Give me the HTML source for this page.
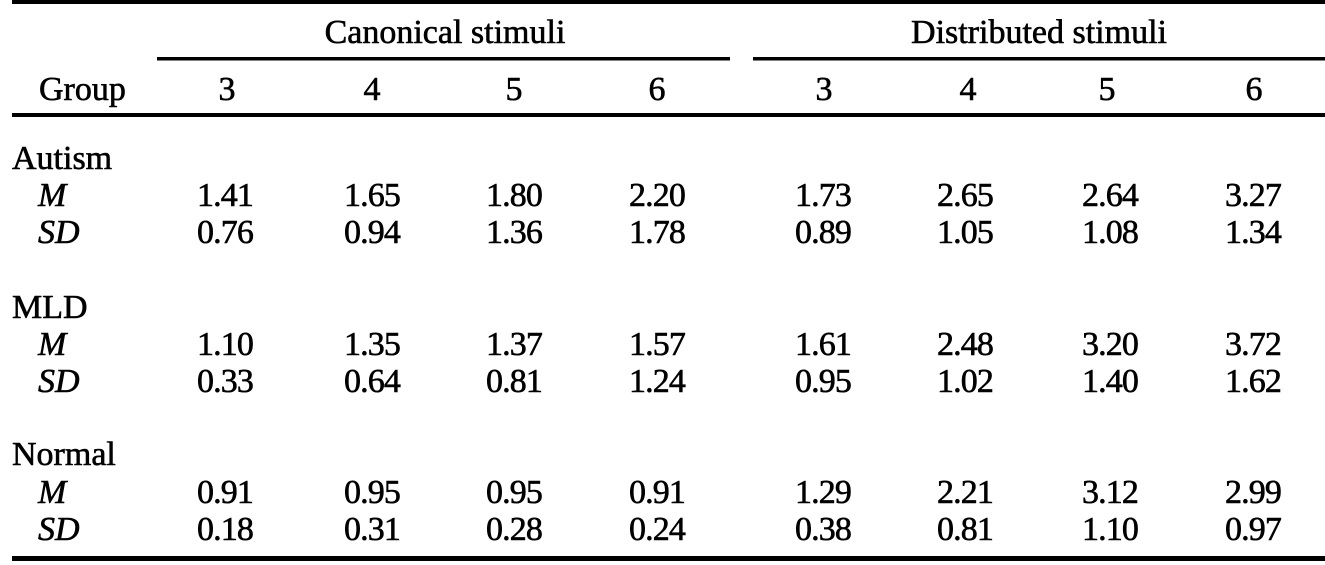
<!DOCTYPE html>
<html>
<head>
<meta charset="utf-8">
<style>
  html, body { margin: 0; padding: 0; background: #fff; }
  body { width: 1325px; height: 565px; overflow: hidden; }
  svg { display: block; }
  text { font-family: "Liberation Serif", "DejaVu Serif", serif; font-size: 34px; fill: #000; stroke: #000; stroke-width: 0.6px; }
  .n { text-anchor: middle; letter-spacing: -0.9px; }
  .c { text-anchor: middle; }
  .i { font-style: italic; }
</style>
</head>
<body>
<svg width="1325" height="565" viewBox="0 0 1325 565" xmlns="http://www.w3.org/2000/svg">
  <!-- rules -->
  <rect x="12" y="0" width="1313" height="4" fill="#000"/>
  <rect x="157" y="57" width="573" height="3.5" fill="#000"/>
  <rect x="753" y="57" width="572" height="3.5" fill="#000"/>
  <rect x="12" y="113" width="1313" height="4" fill="#000"/>
  <rect x="12" y="556" width="1313" height="5" fill="#000"/>

  <!-- spanner headers -->
  <text class="c" x="445" y="43">Canonical stimuli</text>
  <text class="c" x="1039" y="43">Distributed stimuli</text>

  <!-- column header row -->
  <text x="39" y="100">Group</text>
  <text class="c" x="227" y="100">3</text>
  <text class="c" x="372" y="100">4</text>
  <text class="c" x="514" y="100">5</text>
  <text class="c" x="657" y="100">6</text>
  <text class="c" x="824" y="100">3</text>
  <text class="c" x="968" y="100">4</text>
  <text class="c" x="1107" y="100">5</text>
  <text class="c" x="1254" y="100">6</text>

  <!-- Autism -->
  <text x="12" y="169">Autism</text>
  <text class="i" x="38" y="206">M</text>
  <text class="i" x="38" y="243">SD</text>
  <text class="n" x="225" y="206">1.41</text>
  <text class="n" x="372" y="206">1.65</text>
  <text class="n" x="514" y="206">1.80</text>
  <text class="n" x="657" y="206">2.20</text>
  <text class="n" x="823" y="206">1.73</text>
  <text class="n" x="965" y="206">2.65</text>
  <text class="n" x="1110" y="206">2.64</text>
  <text class="n" x="1253" y="206">3.27</text>

  <text class="n" x="225" y="243">0.76</text>
  <text class="n" x="372" y="243">0.94</text>
  <text class="n" x="514" y="243">1.36</text>
  <text class="n" x="657" y="243">1.78</text>
  <text class="n" x="823" y="243">0.89</text>
  <text class="n" x="965" y="243">1.05</text>
  <text class="n" x="1110" y="243">1.08</text>
  <text class="n" x="1253" y="243">1.34</text>

  <!-- MLD -->
  <text x="12" y="318">MLD</text>
  <text class="i" x="38" y="355">M</text>
  <text class="i" x="38" y="392">SD</text>
  <text class="n" x="225" y="355">1.10</text>
  <text class="n" x="372" y="355">1.35</text>
  <text class="n" x="514" y="355">1.37</text>
  <text class="n" x="657" y="355">1.57</text>
  <text class="n" x="823" y="355">1.61</text>
  <text class="n" x="965" y="355">2.48</text>
  <text class="n" x="1110" y="355">3.20</text>
  <text class="n" x="1253" y="355">3.72</text>

  <text class="n" x="225" y="392">0.33</text>
  <text class="n" x="372" y="392">0.64</text>
  <text class="n" x="514" y="392">0.81</text>
  <text class="n" x="657" y="392">1.24</text>
  <text class="n" x="823" y="392">0.95</text>
  <text class="n" x="965" y="392">1.02</text>
  <text class="n" x="1110" y="392">1.40</text>
  <text class="n" x="1253" y="392">1.62</text>

  <!-- Normal -->
  <text x="12" y="465">Normal</text>
  <text class="i" x="38" y="503">M</text>
  <text class="i" x="38" y="540">SD</text>
  <text class="n" x="225" y="503">0.91</text>
  <text class="n" x="372" y="503">0.95</text>
  <text class="n" x="514" y="503">0.95</text>
  <text class="n" x="657" y="503">0.91</text>
  <text class="n" x="823" y="503">1.29</text>
  <text class="n" x="965" y="503">2.21</text>
  <text class="n" x="1110" y="503">3.12</text>
  <text class="n" x="1253" y="503">2.99</text>

  <text class="n" x="225" y="540">0.18</text>
  <text class="n" x="372" y="540">0.31</text>
  <text class="n" x="514" y="540">0.28</text>
  <text class="n" x="657" y="540">0.24</text>
  <text class="n" x="823" y="540">0.38</text>
  <text class="n" x="965" y="540">0.81</text>
  <text class="n" x="1110" y="540">1.10</text>
  <text class="n" x="1253" y="540">0.97</text>
</svg>
</body>
</html>
